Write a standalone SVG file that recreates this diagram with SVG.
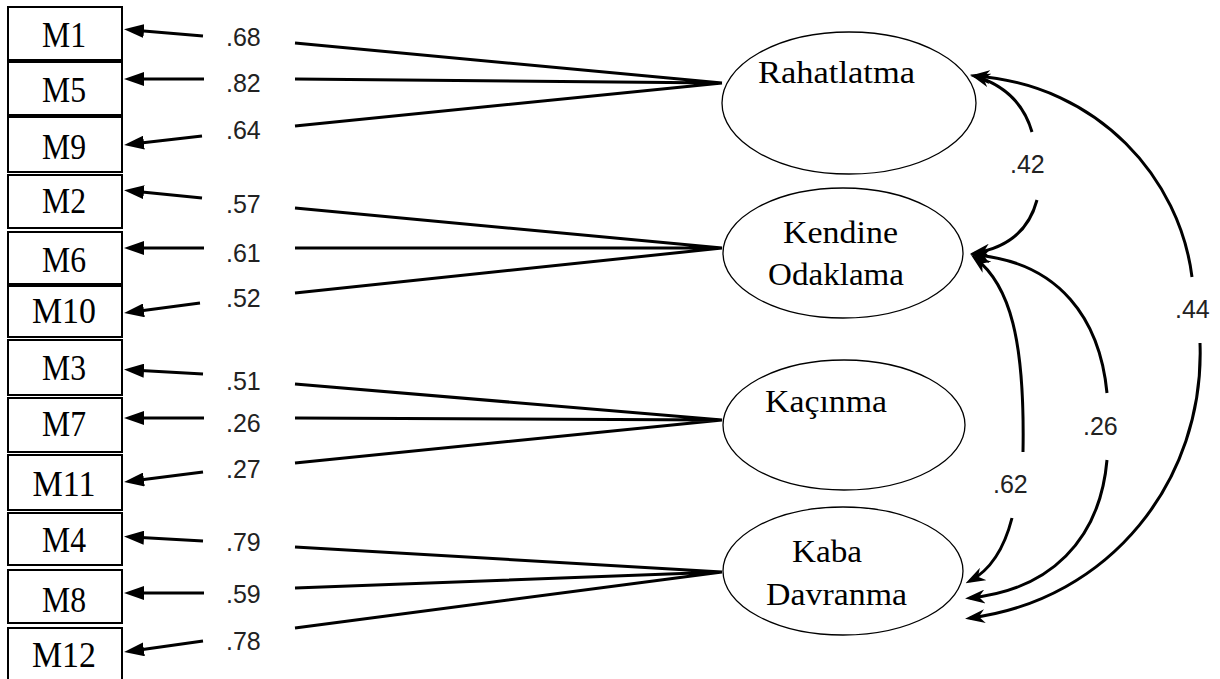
<svg xmlns="http://www.w3.org/2000/svg" width="1220" height="679" viewBox="0 0 1220 679">
<style>
.box{fill:#fff;stroke:#000;stroke-width:2}
.ml{font-family:"Liberation Serif","Times New Roman",serif;font-size:36px;text-anchor:middle;fill:#000}
.lat{fill:#fff;stroke:#000;stroke-width:1.3}
.ll{font-family:"Liberation Serif","Times New Roman",serif;font-size:32px;fill:#000}
.val{font-family:"Liberation Sans",Arial,sans-serif;font-size:25px;fill:#222}
.arr{stroke:#000;stroke-width:3;fill:none;marker-end:url(#ah)}
.ln{stroke:#000;stroke-width:3;fill:none}
.cv{stroke:#000;stroke-width:3;fill:none;marker-end:url(#ch)}
</style>
<defs>
<marker id="ah" viewBox="0 0 20 14" refX="12" refY="7" markerWidth="20" markerHeight="14" markerUnits="userSpaceOnUse" orient="auto">
<path d="M0,0 L20,7 L0,14 z" fill="#000"/>
</marker>
<marker id="ch" viewBox="0 0 20 14" refX="15" refY="7" markerWidth="20" markerHeight="14" markerUnits="userSpaceOnUse" orient="auto">
<path d="M0,0 L20,7 L0,14 L6,7 z" fill="#000"/>
</marker>
</defs>

<g id="M1"><rect class="box" x="8" y="7" width="114" height="53"/><text class="ml" x="64" y="47" textLength="44" lengthAdjust="spacingAndGlyphs">M1</text></g>
<g id="M5"><rect class="box" x="8" y="62" width="114" height="53"/><text class="ml" x="64" y="102" textLength="44" lengthAdjust="spacingAndGlyphs">M5</text></g>
<g id="M9"><rect class="box" x="8" y="117" width="114" height="55"/><text class="ml" x="64" y="159" textLength="44" lengthAdjust="spacingAndGlyphs">M9</text></g>
<g id="M2"><rect class="box" x="8" y="175" width="114" height="53"/><text class="ml" x="64" y="213" textLength="44" lengthAdjust="spacingAndGlyphs">M2</text></g>
<g id="M6"><rect class="box" x="8" y="232" width="114" height="52"/><text class="ml" x="64" y="272" textLength="44" lengthAdjust="spacingAndGlyphs">M6</text></g>
<g id="M10"><rect class="box" x="8" y="286" width="114" height="51"/><text class="ml" x="64" y="323" textLength="64" lengthAdjust="spacingAndGlyphs">M10</text></g>
<g id="M3"><rect class="box" x="8" y="340" width="114" height="55"/><text class="ml" x="64" y="380" textLength="44" lengthAdjust="spacingAndGlyphs">M3</text></g>
<g id="M7"><rect class="box" x="8" y="398" width="114" height="54"/><text class="ml" x="64" y="436" textLength="44" lengthAdjust="spacingAndGlyphs">M7</text></g>
<g id="M11"><rect class="box" x="8" y="455" width="114" height="55"/><text class="ml" x="64" y="496" textLength="63" lengthAdjust="spacingAndGlyphs">M11</text></g>
<g id="M4"><rect class="box" x="8" y="513" width="114" height="52"/><text class="ml" x="64" y="552" textLength="44" lengthAdjust="spacingAndGlyphs">M4</text></g>
<g id="M8"><rect class="box" x="8" y="570" width="114" height="53"/><text class="ml" x="64" y="612" textLength="44" lengthAdjust="spacingAndGlyphs">M8</text></g>
<g id="M12"><rect class="box" x="8" y="628" width="114" height="56"/><text class="ml" x="64" y="667" textLength="64" lengthAdjust="spacingAndGlyphs">M12</text></g>

<g id="Rahatlatma"><ellipse class="lat" cx="849" cy="103" rx="127" ry="71"/><text class="ll" x="758" y="83" textLength="157" lengthAdjust="spacingAndGlyphs">Rahatlatma</text></g>
<g id="KendineOdaklama"><ellipse class="lat" cx="843" cy="253" rx="120" ry="65"/><text class="ll" x="783" y="243" textLength="115" lengthAdjust="spacingAndGlyphs">Kendine</text><text class="ll" x="768" y="285" textLength="136" lengthAdjust="spacingAndGlyphs">Odaklama</text></g>
<g id="Kacinma"><ellipse class="lat" cx="844" cy="425" rx="121" ry="65"/><text class="ll" x="765" y="412" textLength="122" lengthAdjust="spacingAndGlyphs">Kaçınma</text></g>
<g id="KabaDavranma"><ellipse class="lat" cx="843" cy="571" rx="120" ry="64"/><text class="ll" x="792" y="562" textLength="70" lengthAdjust="spacingAndGlyphs">Kaba</text><text class="ll" x="766" y="605" textLength="141" lengthAdjust="spacingAndGlyphs">Davranma</text></g>

<g id="connectors">
<path class="arr" d="M203,36 L132,30"/>
<path class="arr" d="M204,79 L132,79"/>
<path class="arr" d="M202,136 L132,144"/>
<path class="arr" d="M202,198 L132,191"/>
<path class="arr" d="M204,248 L132,248"/>
<path class="arr" d="M200,303 L132,312"/>
<path class="arr" d="M203,374 L132,370"/>
<path class="arr" d="M204,418 L132,418"/>
<path class="arr" d="M203,472 L132,481"/>
<path class="arr" d="M203,541 L132,537"/>
<path class="arr" d="M204,593 L132,593"/>
<path class="arr" d="M203,641 L132,651"/>

<path class="ln" d="M295,43 L722,83 M295,79 L722,83 M295,126 L722,83"/>
<path class="ln" d="M295,208 L722,248 M295,248 L722,248 M295,293 L722,248"/>
<path class="ln" d="M295,384 L722,420 M295,418 L722,420 M295,463 L722,420"/>
<path class="ln" d="M295,547 L722,572 M295,588 L722,572 M295,628 L722,572"/>

<path class="cv" d="M1032,132 Q1020,90 975,76"/>
<path class="cv" d="M1037,200 Q1025,245 975,253"/>
<path class="cv" d="M1192,277 C1180,180 1100,85 975,76"/>
<path class="cv" d="M1200,343 C1205,480 1110,600 970,618"/>
<path class="cv" d="M1107,393 C1100,320 1060,262 975,255"/>
<path class="cv" d="M1107,460 C1100,540 1050,590 970,598"/>
<path class="cv" d="M1023,452 C1025,340 1010,285 975,258"/>
<path class="cv" d="M1012,518 Q1000,565 970,581"/>
</g>

<g id="labels">
<text class="val" x="226" y="46">.68</text>
<text class="val" x="226" y="92">.82</text>
<text class="val" x="226" y="139">.64</text>
<text class="val" x="226" y="213">.57</text>
<text class="val" x="226" y="262">.61</text>
<text class="val" x="226" y="307">.52</text>
<text class="val" x="226" y="390">.51</text>
<text class="val" x="226" y="432">.26</text>
<text class="val" x="226" y="478">.27</text>
<text class="val" x="226" y="551">.79</text>
<text class="val" x="226" y="603">.59</text>
<text class="val" x="226" y="650">.78</text>
<text class="val" x="1010" y="173">.42</text>
<text class="val" x="1175" y="318">.44</text>
<text class="val" x="1083" y="435">.26</text>
<text class="val" x="993" y="493">.62</text>
</g>
</svg>
